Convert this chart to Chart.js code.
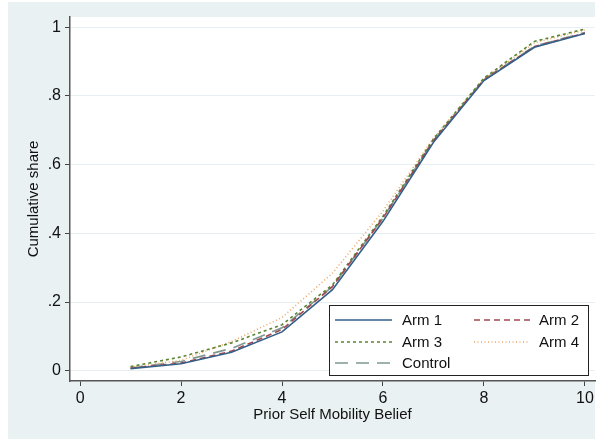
<!DOCTYPE html>
<html>
<head>
<meta charset="utf-8">
<script src="https://cdn.jsdelivr.net/npm/chart.js@4/dist/chart.umd.min.js"></script>
<style>
  html, body { margin: 0; padding: 0; background: #ffffff; }
  #wrap { width: 598px; height: 439px; }
</style>
</head>
<body>
<div id="wrap"><canvas id="c" width="598" height="439"></canvas></div>
<script>
// Belief values on the horizontal axis
const beliefs = [1, 2, 3, 4, 5, 6, 7, 8, 9, 10];

// Cumulative share by treatment arm
const arm1    = [0.006, 0.020, 0.054, 0.113, 0.236, 0.435, 0.665, 0.845, 0.942, 0.982];
const arm2    = [0.007, 0.022, 0.057, 0.120, 0.245, 0.445, 0.670, 0.847, 0.944, 0.983];
const arm3    = [0.012, 0.040, 0.081, 0.134, 0.250, 0.450, 0.675, 0.852, 0.959, 0.995];
const arm4    = [0.010, 0.030, 0.085, 0.155, 0.284, 0.465, 0.677, 0.850, 0.955, 0.992];
const control = [0.008, 0.027, 0.065, 0.125, 0.245, 0.445, 0.670, 0.848, 0.945, 0.985];

const seriesNames = ["Arm 1", "Arm 2", "Arm 3", "Arm 4", "Control"];

// Axis ticks
const xTicks = [0, 2, 4, 6, 8, 10];
const yTicks = [0, 0.2, 0.4, 0.6, 0.8, 1];
const yTickLabels = ["0", ".2", ".4", ".6", ".8", "1"];

const FONT = "'Liberation Sans', Arial, Helvetica, sans-serif";

const styles = [
  { color: "#345f88", dash: [] },
  { color: "#a5474f", dash: [6, 4] },
  { color: "#5b8530", dash: [3, 3] },
  { color: "#eda766", dash: [1, 2.5] },
  { color: "#7f9892", dash: [13, 8] }
];

const seriesValues = [arm1, arm2, arm3, arm4, control];

const datasets = seriesNames.map((name, i) => ({
  label: name,
  data: beliefs.map((b, j) => ({ x: b, y: seriesValues[i][j] })),
  borderColor: styles[i].color,
  borderDash: styles[i].dash,
  borderWidth: 1.6,
  pointRadius: 0,
  fill: false,
  tension: 0
}));

// Outer frame and white plot region
const backdrop = {
  id: "backdrop",
  beforeDraw(chart) {
    const { ctx, chartArea } = chart;
    ctx.save();
    ctx.fillStyle = "#eaf1f3";
    ctx.fillRect(8, 2, 587, 437);
    ctx.fillStyle = "#ffffff";
    ctx.fillRect(chartArea.left, chartArea.top,
                 chartArea.right - chartArea.left, chartArea.bottom - chartArea.top);
    ctx.restore();
  }
};

// Legend box inside the plot, two columns
const boxLegend = {
  id: "boxLegend",
  afterDraw(chart) {
    const { ctx, chartArea } = chart;
    const w = 259, h = 70;
    const right = chartArea.right - 7;
    const bottom = chartArea.bottom - 6;
    const left = right - w, top = bottom - h;
    ctx.save();
    ctx.fillStyle = "#ffffff";
    ctx.fillRect(left, top, w, h);
    ctx.strokeStyle = "#222222";
    ctx.lineWidth = 1;
    ctx.strokeRect(Math.round(left) + 0.5, Math.round(top) + 0.5, w, h);
    ctx.font = "15px " + FONT;
    ctx.textBaseline = "middle";
    ctx.fillStyle = "#111111";
    const rowY = [15, 37, 58];
    const colLine = [[6, 63], [145, 201]];
    const colText = [73, 210];
    chart.data.datasets.forEach((ds, i) => {
      const r = Math.floor(i / 2), c = i % 2;
      const y = top + rowY[r];
      ctx.beginPath();
      ctx.setLineDash(ds.borderDash || []);
      ctx.strokeStyle = ds.borderColor;
      ctx.lineWidth = 1.6;
      ctx.moveTo(left + colLine[c][0], y);
      ctx.lineTo(left + colLine[c][1], y);
      ctx.stroke();
      ctx.setLineDash([]);
      ctx.fillText(ds.label, left + colText[c], y + 1);
    });
    ctx.restore();
  }
};

new Chart(document.getElementById("c"), {
  type: "line",
  data: { datasets },
  plugins: [backdrop, boxLegend],
  options: {
    responsive: false,
    animation: false,
    events: [],
    layout: { padding: { left: 8, right: 3, top: 17, bottom: 0 } },
    plugins: { legend: { display: false }, tooltip: { enabled: false } },
    scales: {
      x: {
        type: "linear",
        min: -0.2,
        max: 10.2,
        afterBuildTicks(axis) { axis.ticks = xTicks.map(v => ({ value: v })); },
        afterFit(axis) { axis.height = 58; },
        grid: { drawOnChartArea: false, drawTicks: true, tickLength: 5, tickColor: "#444444" },
        border: { color: "#555555", width: 1.5 },
        ticks: {
          color: "#111111",
          font: { family: FONT, size: 16 },
          padding: 3,
          maxRotation: 0,
          callback: v => String(v)
        },
        title: {
          display: true,
          text: "Prior Self Mobility Belief",
          color: "#111111",
          font: { family: FONT, size: 15 },
          padding: { top: 0, bottom: 15 }
        }
      },
      y: {
        type: "linear",
        min: -0.03,
        max: 1.03,
        afterBuildTicks(axis) { axis.ticks = yTicks.map(v => ({ value: v })); },
        afterFit(axis) { axis.width = 62; },
        grid: { color: "#e6eff2", lineWidth: 1, drawTicks: true, tickLength: 5, tickColor: "#444444" },
        border: { color: "#555555", width: 1.5 },
        ticks: {
          color: "#111111",
          font: { family: FONT, size: 16 },
          padding: 4,
          callback: v => {
            const k = yTicks.findIndex(t => Math.abs(t - v) < 1e-9);
            return k >= 0 ? yTickLabels[k] : "";
          }
        },
        title: {
          display: true,
          text: "Cumulative share",
          color: "#111111",
          font: { family: FONT, size: 15 },
          padding: { top: 17, bottom: 0 }
        }
      }
    }
  }
});
</script>
</body>
</html>
